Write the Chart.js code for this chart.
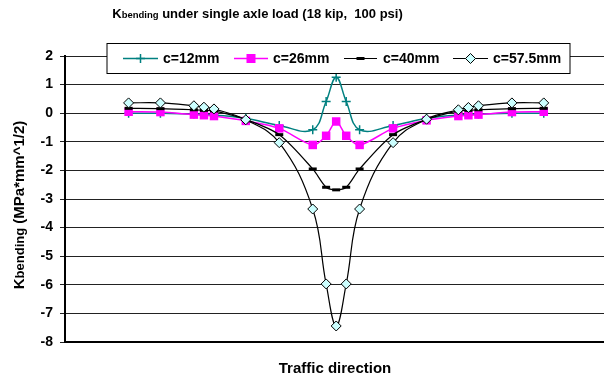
<!DOCTYPE html>
<html>
<head>
<meta charset="utf-8">
<script src="https://cdn.jsdelivr.net/npm/chart.js@4.4.1/dist/chart.umd.min.js"></script>
<style>
    body { margin: 0; background: #fff; }
    canvas { display: block; }
</style>
</head>
<body>
<canvas id="chart" width="604" height="379"></canvas>
<script>
// positions along the traffic direction (centre = 0)
const positions = [-62, -52.5, -42.5, -39.5, -36.5, -27, -17, -7, -3, 0, 3, 7, 17, 27, 36.5, 39.5, 42.5, 52.5, 62]

const c12 = [0.0, 0.0, -0.03, -0.04, -0.06, -0.18, -0.43, -0.58, 0.41, 1.26, 0.41, -0.58, -0.43, -0.18, -0.06, -0.04, -0.03, 0.0, 0.0]
const c26 = [0.05, 0.04, -0.05, -0.07, -0.1, -0.27, -0.53, -1.11, -0.79, -0.29, -0.79, -1.11, -0.53, -0.25, -0.1, -0.07, -0.05, 0.04, 0.05]
const c40 = [0.17, 0.16, 0.12, 0.1, 0.08, -0.22, -0.75, -1.95, -2.59, -2.68, -2.59, -1.95, -0.75, -0.22, 0.08, 0.1, 0.12, 0.16, 0.17]
const c575 = [0.36, 0.36, 0.26, 0.21, 0.15, -0.23, -1.03, -3.35, -5.97, -7.44, -5.97, -3.35, -1.03, -0.21, 0.12, 0.2, 0.26, 0.36, 0.36]

const seriesNames = ['c=12mm', 'c=26mm', 'c=40mm', 'c=57.5mm']
const yMin = -8
const yMax = 2

const FONT = "'Liberation Sans', Arial, sans-serif"
const TEAL = '#008080'
const PINK = '#ff00ff'

const toPoints = vals => positions.map((x, i) => ({x, y: vals[i]}))

// draws text pieces of different sizes side by side, centred on x
function richText(ctx, parts, x, y) {
    let total = 0
    parts.forEach(([t, size]) => {
        ctx.font = `bold ${size}px ${FONT}`
        total += ctx.measureText(t).width
    })
    let cx = x - total / 2
    parts.forEach(([t, size]) => {
        ctx.font = `bold ${size}px ${FONT}`
        ctx.fillText(t, cx, y)
        cx += ctx.measureText(t).width
    })
}

function drawMarker(ctx, kind, x, y) {
    ctx.save()
    if (kind === 'cross') {
        ctx.strokeStyle = TEAL
        ctx.lineWidth = 1.5
        ctx.beginPath()
        ctx.moveTo(x - 4.5, y); ctx.lineTo(x + 4.5, y)
        ctx.moveTo(x, y - 4.5); ctx.lineTo(x, y + 4.5)
        ctx.stroke()
    } else if (kind === 'rect') {
        ctx.fillStyle = PINK
        ctx.fillRect(x - 4.5, y - 4.5, 9, 9)
    } else if (kind === 'dash') {
        ctx.fillStyle = '#000'
        ctx.fillRect(x - 4, y - 1.5, 8, 3)
    } else {
        ctx.fillStyle = '#ccffff'
        ctx.strokeStyle = '#000'
        ctx.lineWidth = 1
        ctx.beginPath()
        ctx.moveTo(x, y - 5); ctx.lineTo(x + 5, y); ctx.lineTo(x, y + 5); ctx.lineTo(x - 5, y)
        ctx.closePath()
        ctx.fill(); ctx.stroke()
    }
    ctx.restore()
}

const textPlugin = {
    id: 'chart-texts',
    afterDraw(chart) {
        const {ctx} = chart
        ctx.save()
        ctx.fillStyle = '#000'
        ctx.textAlign = 'left'
        ctx.textBaseline = 'alphabetic'

        richText(ctx, [['K', 13], ['bending', 9.5], [' under single axle load (18 kip,  100 psi)', 13]], 257.5, 17.5)
        richText(ctx, [['Traffic direction', 15]], 335, 372.5)

        ctx.save()
        ctx.translate(23.5, 205)
        ctx.rotate(-Math.PI / 2)
        richText(ctx, [['K', 15], ['bending', 13], [' (MPa*mm^1/2)', 15]], 0, 0)
        ctx.restore()

        // legend box sitting over the plot
        ctx.fillStyle = '#fff'
        ctx.fillRect(107, 43.5, 463, 30)
        ctx.strokeStyle = '#000'
        ctx.lineWidth = 1
        ctx.strokeRect(107, 43.5, 463, 30)

        const items = [
            {x0: 123, x1: 158, color: TEAL, width: 1.5, marker: 'cross', tx: 163},
            {x0: 234, x1: 268, color: PINK, width: 1.5, marker: 'rect', tx: 273},
            {x0: 344, x1: 377, color: '#000', width: 1, marker: 'dash', tx: 383},
            {x0: 453, x1: 488, color: '#000', width: 1, marker: 'diamond', tx: 493},
        ]
        const ly = 58.5
        items.forEach((it, i) => {
            ctx.strokeStyle = it.color
            ctx.lineWidth = it.width
            ctx.beginPath()
            ctx.moveTo(it.x0, ly)
            ctx.lineTo(it.x1, ly)
            ctx.stroke()
            drawMarker(ctx, it.marker, (it.x0 + it.x1) / 2, ly)
            ctx.fillStyle = '#000'
            ctx.font = `bold 14px ${FONT}`
            ctx.textBaseline = 'middle'
            ctx.fillText(seriesNames[i], it.tx, ly + 0.5)
        })
        ctx.restore()
    },
}

new Chart(document.getElementById('chart'), {
    type: 'line',
    data: {
        datasets: [
            {
                label: seriesNames[0],
                data: toPoints(c12),
                borderColor: TEAL,
                borderWidth: 1.5,
                pointStyle: 'cross',
                pointRadius: 4.5,
                pointBorderWidth: 1.5,
                pointBorderColor: TEAL,
                tension: 0.4,
                order: 3,
            },
            {
                label: seriesNames[1],
                data: toPoints(c26),
                borderColor: PINK,
                borderWidth: 1.5,
                pointStyle: 'rect',
                pointRadius: 6,
                pointBorderWidth: 0,
                pointBackgroundColor: PINK,
                tension: 0.3,
                order: 2,
            },
            {
                label: seriesNames[2],
                data: toPoints(c40),
                borderColor: '#000',
                borderWidth: 1.2,
                pointStyle: 'line',
                pointRadius: 4,
                pointBorderWidth: 3,
                pointBorderColor: '#000',
                tension: 0.3,
                order: 1,
            },
            {
                label: seriesNames[3],
                data: toPoints(c575),
                borderColor: '#000',
                borderWidth: 1.2,
                pointStyle: 'rectRot',
                pointRadius: 5,
                pointBorderWidth: 1,
                pointBorderColor: '#000',
                pointBackgroundColor: '#ccffff',
                tension: 0.4,
                order: 0,
            },
        ],
    },
    options: {
        responsive: false,
        animation: false,
        devicePixelRatio: 1,
        layout: {autoPadding: false, padding: {top: 56, bottom: 37, left: 0, right: 0}},
        plugins: {
            legend: {display: false},
            title: {display: false},
            tooltip: {enabled: false},
        },
        scales: {
            x: {
                type: 'linear',
                min: -81,
                max: 80,
                grid: {display: false},
                ticks: {display: false},
                border: {display: true, color: '#000', width: 2},
                afterFit: s => { s.height = 0 },
            },
            y: {
                min: yMin,
                max: yMax,
                ticks: {
                    stepSize: 1,
                    color: '#000',
                    padding: 7,
                    font: {family: FONT, size: 14, weight: 'bold'},
                },
                grid: {color: '#222', lineWidth: 1, tickLength: 5},
                border: {display: true, color: '#000', width: 2},
                afterFit: s => { s.width = 65 },
            },
        },
    },
    plugins: [textPlugin],
})
</script>
</body>
</html>
